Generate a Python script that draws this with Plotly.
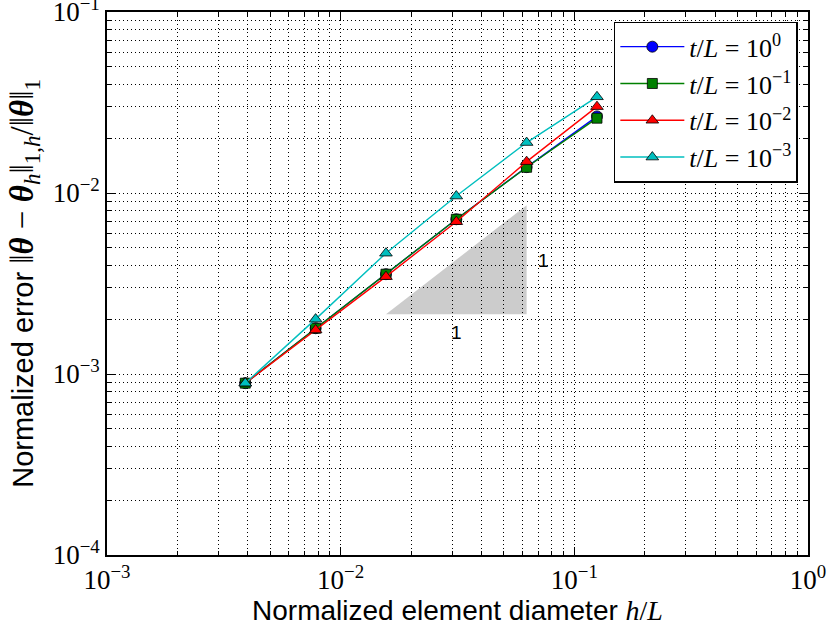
import plotly.graph_objects as go

# Element diameters h/L (uniform refinement)
h = [1/256, 1/128, 1/64, 1/32, 1/16, 1/8]

# Normalized error for each thickness ratio t/L
err_t1e0 = [8.9e-4, 1.79e-3, 3.56e-3, 7.16e-3, 1.39e-2, 2.65e-2]
err_t1e1 = [8.9e-4, 1.79e-3, 3.56e-3, 7.16e-3, 1.387e-2, 2.59e-2]
err_t1e2 = [8.9e-4, 1.75e-3, 3.45e-3, 6.94e-3, 1.49e-2, 3.0e-2]
err_t1e3 = [8.9e-4, 2.01e-3, 4.65e-3, 9.62e-3, 1.90e-2, 3.4e-2]

series_names = [
    "<i>t</i>/<i>L</i> = 10<sup>0</sup>",
    "<i>t</i>/<i>L</i> = 10<sup>−1</sup>",
    "<i>t</i>/<i>L</i> = 10<sup>−2</sup>",
    "<i>t</i>/<i>L</i> = 10<sup>−3</sup>",
]

# Slope-1 reference triangle
tri_x = [1/64, 1/16, 1/16, 1/64]
tri_y = [2.14e-3, 2.14e-3, 8.56e-3, 2.14e-3]

x_major = [1e-3, 1e-2, 1e-1, 1e0]
x_major_text = ["10<sup>−3</sup>", "10<sup>−2</sup>", "10<sup>−1</sup>", "10<sup>0</sup>"]
y_major = [1e-4, 1e-3, 1e-2, 1e-1]
y_major_text = ["10<sup>−4</sup>", "10<sup>−3</sup>", "10<sup>−2</sup>", "10<sup>−1</sup>"]

x_minor = [m * 10.0**e for e in (-3, -2, -1) for m in range(2, 10)]
y_minor = [m * 10.0**e for e in (-4, -3, -2) for m in range(2, 10)]

SERIF = "Liberation Serif, DejaVu Serif, serif"
SANS = "Liberation Sans, Arial, sans-serif"
GRID_DASH = "1px,3px"

fig = go.Figure()

# translucent fill so the dotted grid stays visible through the triangle
fig.add_trace(go.Scatter(
    x=tri_x, y=tri_y, mode="lines", fill="toself",
    fillcolor="rgba(0,0,0,0.2)", line=dict(width=0, color="rgba(0,0,0,0)"),
    showlegend=False, hoverinfo="skip",
))

styles = [
    ("#0000ff", "circle", 11),
    ("#008000", "square", 10),
    ("#ff0000", "triangle-up", 11),
    ("#00bfbf", "triangle-up", 11),
]
for i, (ys, name, (col, sym, sz)) in enumerate(zip([err_t1e0, err_t1e1, err_t1e2, err_t1e3], series_names, styles)):
    fig.add_trace(go.Scatter(
        x=h, y=ys, name=name, mode="lines+markers", legendgroup=f"g{i}",
        line=dict(color=col, width=1.4),
        marker=dict(symbol=sym, size=sz, color=col, line=dict(color="black", width=0.8)),
    ))

fig.add_annotation(x=-1.505, y=-2.77, xref="x", yref="y", text="1", showarrow=False,
                   font=dict(family=SANS, size=19, color="black"))
fig.add_annotation(x=-1.13, y=-2.375, xref="x", yref="y", text="1", showarrow=False,
                   font=dict(family=SANS, size=19, color="black"))

axis_common = dict(
    type="log", showline=True, linecolor="black", linewidth=1.6, mirror="allticks",
    ticks="inside", ticklen=8, tickwidth=1, tickcolor="black",
    showgrid=True, gridcolor="black", griddash=GRID_DASH, gridwidth=1,
    zeroline=False, tickmode="array", ticklabeloverflow="allow", automargin=False,
    tickfont=dict(family=SERIF, size=27, color="black"),
)
minor_common = dict(tickmode="array", ticks="inside", ticklen=4, tickcolor="black",
                    showgrid=True, gridcolor="black", griddash=GRID_DASH, gridwidth=1)

math_font = "font-family:Liberation Serif, DejaVu Serif, serif"
y_title = (
    "Normalized error "
    f"<span style='{math_font};font-size:33px'>‖<b><i>θ</i></b> − <b><i>θ</i></b><sub><i>h</i></sub>‖"
    "<sub>1,<i>h</i></sub>/‖<b><i>θ</i></b>‖<sub>1</sub></span>"
)
x_title = f"Normalized element diameter <span style='{math_font}'><i>h</i>/<i>L</i></span>"

# vertical axis title placed as a rotated annotation left of the tick labels
fig.add_annotation(x=-0.118, y=0.5, xref="paper", yref="paper", text=y_title,
                   textangle=-90, showarrow=False, xanchor="center", yanchor="middle",
                   font=dict(family=SANS, size=29, color="black"))

fig.update_xaxes(
    **axis_common, range=[-3, 0], tickvals=x_major, ticktext=x_major_text,
    minor=dict(**minor_common, tickvals=x_minor),
    title=dict(text=x_title, font=dict(family=SANS, size=28, color="black"), standoff=0),
)
fig.update_yaxes(
    **axis_common, range=[-4, -1], tickvals=y_major, ticktext=y_major_text,
    minor=dict(**minor_common, tickvals=y_minor),
)

fig.update_layout(
    width=830, height=630,
    margin=dict(l=107, r=22, t=12, b=75, autoexpand=False),
    paper_bgcolor="white", plot_bgcolor="white",
    showlegend=True,
    legend=dict(
        x=0.9855, y=0.982, xanchor="right", yanchor="top",
        bgcolor="white", bordercolor="black", borderwidth=1.5,
        font=dict(family=SERIF, size=26, color="black"),
        tracegroupgap=0, itemwidth=64,
    ),
)

fig.write_html("out.html")
